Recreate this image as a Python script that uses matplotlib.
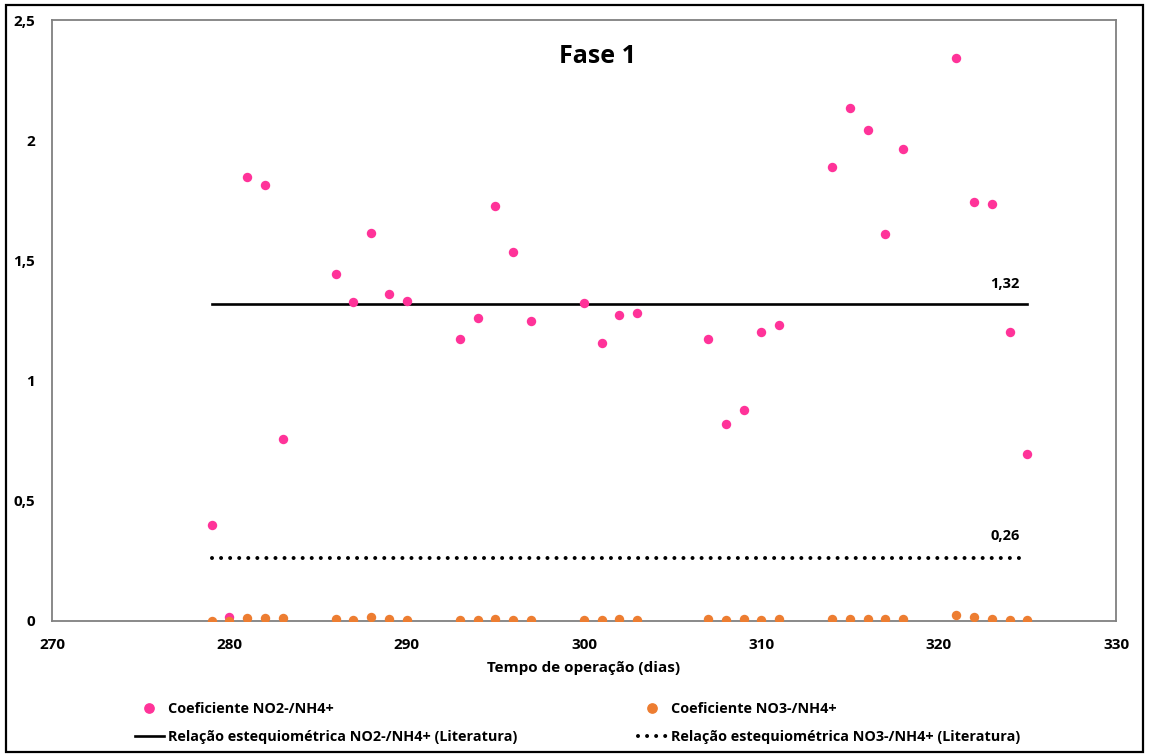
import matplotlib
matplotlib.use("Agg")
import matplotlib.pyplot as plt
from matplotlib.lines import Line2D
from matplotlib.patches import Rectangle

plt.rcParams['font.family'] = ['Open Sans', 'DejaVu Sans']
plt.rcParams['font.weight'] = 'bold'

# Dias de operação e coeficientes medidos
dias = [279, 280, 281, 282, 283, 286, 287, 288, 289, 290,
        293, 294, 295, 296, 297, 300, 301, 302, 303,
        307, 308, 309, 310, 311, 314, 315, 316, 317, 318,
        321, 322, 323, 324, 325]

coef_no2 = [0.40, 0.017, 1.845, 1.812, 0.758, 1.445, 1.326, 1.614, 1.360, 1.331,
            1.173, 1.260, 1.725, 1.535, 1.249, 1.324, 1.155, 1.273, 1.283,
            1.174, 0.818, 0.878, 1.204, 1.233, 1.890, 2.135, 2.041, 1.608, 1.965,
            2.341, 1.742, 1.736, 1.202, 0.695]

coef_no3 = [0.001, 0.0, 0.014, 0.012, 0.012, 0.008, 0.006, 0.015, 0.007, 0.006,
            0.006, 0.006, 0.008, 0.006, 0.006, 0.002, 0.003, 0.008, 0.003,
            0.007, 0.003, 0.008, 0.004, 0.010, 0.007, 0.007, 0.010, 0.007, 0.007,
            0.024, 0.017, 0.007, 0.006, 0.004]

# Relações estequiométricas da literatura
rel_no2 = 1.32
rel_no3 = 0.26

rosa = '#FF3399'
laranja = '#ED7D31'
pontilhado = (0, (0.001, 2.25))

fig = plt.figure(figsize=(11.51, 7.56), dpi=100)
ax = fig.add_axes([0.0452, 0.1786, 0.9244, 0.7949])

ax.plot([dias[0], dias[-1]], [rel_no2, rel_no2], color='black', lw=1.9, zorder=2)
ax.plot([dias[0], dias[-1] - 0.25], [rel_no3, rel_no3], color='black', lw=2.9,
        linestyle=pontilhado, dash_capstyle='round', zorder=2)

ax.scatter(dias, coef_no2, s=46, color=rosa, zorder=3, linewidths=0)
ax.scatter(dias, coef_no3, s=46, color=laranja, zorder=4, linewidths=0)

ax.annotate('1,32', (323.75, rel_no2), xytext=(0, 13), textcoords='offset pixels',
            ha='center', va='bottom', fontsize=10.5, fontweight='bold')
ax.annotate('0,26', (323.75, rel_no3), xytext=(0, 15), textcoords='offset pixels',
            ha='center', va='bottom', fontsize=10.5, fontweight='bold')

ax.text(0.513, 0.94, 'Fase 1', transform=ax.transAxes, ha='center', va='center',
        fontsize=18, fontweight='bold')

ax.set_xlim(270, 330)
ax.set_ylim(0, 2.5)
ax.set_xticks(range(270, 331, 10))
ax.set_yticks([0, 0.5, 1, 1.5, 2, 2.5])
ax.set_yticklabels(['0', '0,5', '1', '1,5', '2', '2,5'])
ax.tick_params(length=0, labelsize=11, pad=12)
ax.tick_params(axis='y', pad=12)
for lab in ax.get_xticklabels() + ax.get_yticklabels():
    lab.set_fontweight('bold')
ax.set_xlabel('Tempo de operação (dias)', fontsize=11, fontweight='bold', labelpad=7)

for sp in ax.spines.values():
    sp.set_color('#808080')
    sp.set_linewidth(1.3)

# Legenda em duas colunas
h_no2 = Line2D([], [], marker='o', color=rosa, linestyle='none', markersize=6.7)
h_no3 = Line2D([], [], marker='o', color=laranja, linestyle='none', markersize=6.7)
h_l2 = Line2D([], [], color='black', lw=1.9)
h_l3 = Line2D([], [], color='black', lw=2.9, linestyle=pontilhado,
              dash_capstyle='round')

kw = dict(loc='upper left', frameon=False, fontsize=10.4, handlelength=2.0,
          handletextpad=0.3, labelspacing=0.95, borderpad=0, borderaxespad=0)
leg1 = fig.legend([h_no2, h_l2], ['Coeficiente NO2-/NH4+',
                   'Relação estequiométrica NO2-/NH4+ (Literatura)'],
                  bbox_to_anchor=(135 / 1151, 1 - 702 / 756), **kw)
leg2 = fig.legend([h_no3, h_l3], ['Coeficiente NO3-/NH4+',
                   'Relação estequiométrica NO3-/NH4+ (Literatura)'],
                  bbox_to_anchor=(638 / 1151, 1 - 702 / 756), **kw)
for leg in (leg1, leg2):
    for t in leg.get_texts():
        t.set_fontweight('bold')

# Moldura externa
fig.patches.append(Rectangle((6 / 1151, 4 / 756), 1 - 14 / 1151, 1 - 9 / 756,
                             transform=fig.transFigure, fill=False,
                             edgecolor='black', lw=1.6))

fig.savefig('out.png', dpi=100)
